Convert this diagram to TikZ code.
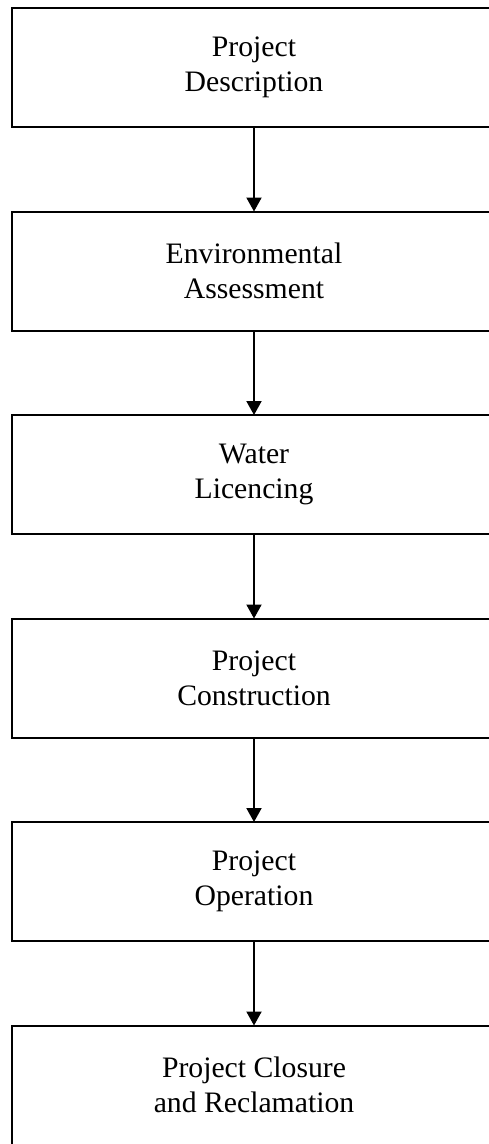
\documentclass[tikz,border=0pt]{standalone}
\usepackage{fontspec}
\setmainfont{Liberation Serif}
\usepackage{tikz}
\usetikzlibrary{positioning}
\usetikzlibrary{arrows.meta}

\begin{document}
\begin{tikzpicture}[
    node distance=84.5pt, % Vertical gap between boxes
    box/.style={
        draw,
        rectangle,
        line width=2pt,
        outer sep=0pt,
        minimum width=484pt,
        minimum height=119pt,
        align=center,
        font=\fontsize{29.7pt}{35pt}\selectfont
    },
    arrow/.style={
        -{Triangle[width=15pt,length=14pt]},
        line width=2pt
    }
]
    % --- Page frame (the boxes run past its right and bottom edges) ---
    \path[use as bounding box, clip] (0,0) rectangle (489pt,-1144pt);

    % --- Nodes arranged vertically, one stage after the other ---
    \node[box] (descr) at (254pt,-67.5pt) {Project\\Description};
    \node[box, below=of descr]   (assess)  {Environmental\\Assessment};
    \node[box, below=of assess]  (licence) {Water\\Licencing};
    \node[box, below=of licence] (constr)  {Project\\Construction};
    \node[box, below=of constr]  (oper)    {Project\\Operation};
    \node[box, below=of oper]    (closure) {Project Closure\\and Reclamation};

    % --- Arrows between consecutive stages ---
    \draw[arrow] (descr)   -- (assess);
    \draw[arrow] (assess)  -- (licence);
    \draw[arrow] (licence) -- (constr);
    \draw[arrow] (constr)  -- (oper);
    \draw[arrow] (oper)    -- (closure);
\end{tikzpicture}
\end{document}
